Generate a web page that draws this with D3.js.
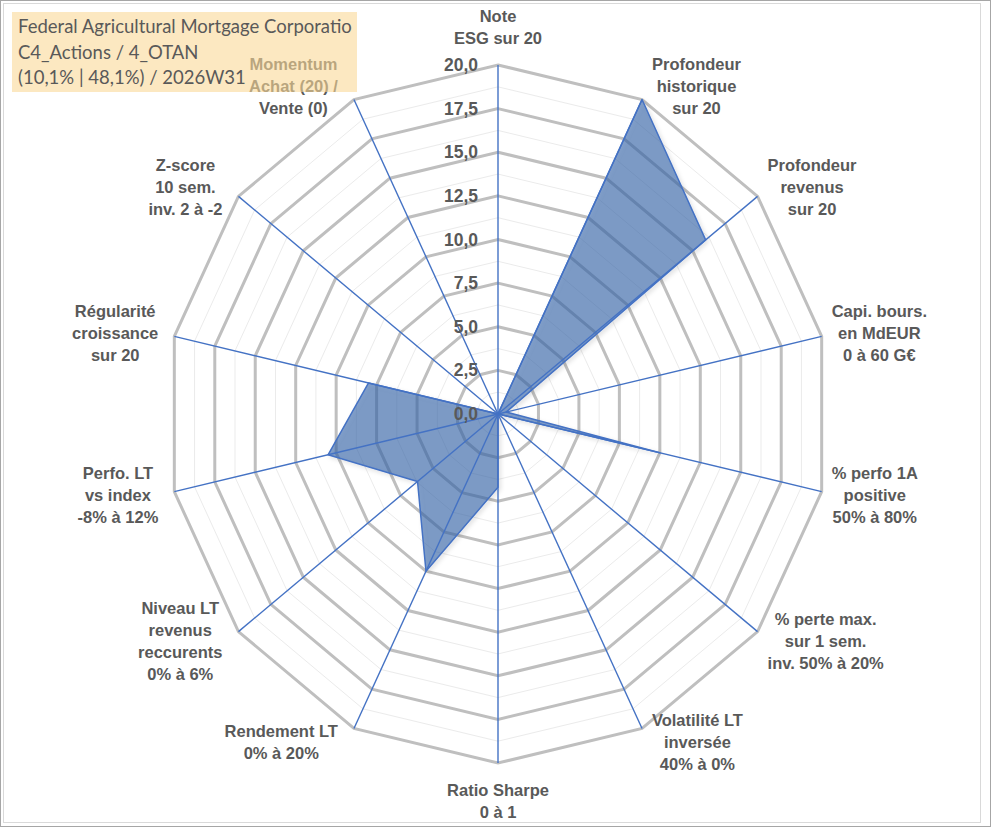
<!DOCTYPE html>
<meta charset="utf-8">
<html>
<head>
  <title>Radar</title>
  <script src="https://d3js.org/d3.v7.min.js"></script>
  <style>
    body { margin: 0; background: #fff; }
    .lbl { font-family: "Liberation Sans", Arial, sans-serif; font-weight: bold; font-size: 16.5px; fill: #595959; }
    .tick { font-family: "Liberation Sans", Arial, sans-serif; font-weight: bold; font-size: 17.5px; fill: #595959; }
    .title { font-family: Lato, "Open Sans", sans-serif; font-size: 18.5px; fill: #595959; }
  </style>
</head>
<body>
<div id="chart"></div>
<script>

// axis names, clockwise from the top
var axisLabels = [
  ["Note", "ESG sur 20"],
  ["Profondeur", "historique", "sur 20"],
  ["Profondeur", "revenus", "sur 20"],
  ["Capi. bours.", "en MdEUR", "0 à 60 G€"],
  ["% perfo 1A", "positive", "50% à 80%"],
  ["% perte max.", "sur 1 sem.", "inv. 50% à 20%"],
  ["Volatilité LT", "inversée", "40% à 0%"],
  ["Ratio Sharpe", "0 à 1"],
  ["Rendement LT", "0% à 20%"],
  ["Niveau LT", "revenus", "reccurents", "0% à 6%"],
  ["Perfo. LT", "vs index", "-8% à 12%"],
  ["Régularité", "croissance", "sur 20"],
  ["Z-score", "10 sem.", "inv. 2 à -2"],
  ["Momentum", "Achat (20) /", "Vente (0)"]
];

// scores (0..20)
var scores = [0, 20, 16, 0.5, 10, 0, 0, 4.2, 10, 6.2, 10.5, 8, 0, 0];

var majorTicks = [0, 2.5, 5, 7.5, 10, 12.5, 15, 17.5, 20];
var minorTicks = [1.25, 3.75, 6.25, 8.75, 11.25, 13.75, 16.25, 18.75];

var titleLines = [
  "Federal Agricultural Mortgage Corporatio",
  "C4_Actions / 4_OTAN",
  "(10,1% | 48,1%) / 2026W31"
];

var width = 991, height = 830;
var cx = 498, cy = 414;

var svg = d3.select("#chart")
  .append("svg")
    .attr("width", width)
    .attr("height", height);

var defs = svg.append("defs");
var shadow = defs.append("filter").attr("id", "shadow")
  .attr("x", "-10%").attr("y", "-10%").attr("width", "130%").attr("height", "130%");
shadow.append("feDropShadow")
  .attr("dx", 2).attr("dy", 2).attr("stdDeviation", 2)
  .attr("flood-color", "#000").attr("flood-opacity", 0.15);

// frame
svg.append("rect")
  .attr("x", 0.5).attr("y", 0.5).attr("width", width - 1).attr("height", height - 4)
  .attr("fill", "#fff").attr("stroke", "#a6a6a6");
svg.append("rect")
  .attr("x", 3.5).attr("y", 3.5).attr("width", 977).attr("height", 819)
  .attr("fill", "none").attr("stroke", "#d9d9d9");

// radial scales (the picture is slightly squeezed horizontally)
var rX = d3.scaleLinear().domain([0, 20]).range([0, 332]);
var rY = d3.scaleLinear().domain([0, 20]).range([0, 349]);
var ang = d3.scaleLinear().domain([0, axisLabels.length]).range([0, 2 * Math.PI]);

function pt(i, v) {
  var a = ang(i);
  return [cx + rX(v) * Math.sin(a), cy - rY(v) * Math.cos(a)];
}

var idx = d3.range(axisLabels.length);
var ring = d3.line().curve(d3.curveLinearClosed);

// minor grid
svg.append("g").selectAll("path")
  .data(minorTicks)
  .enter().append("path")
    .attr("d", function(v) { return ring(idx.map(function(i) { return pt(i, v); })); })
    .attr("fill", "none")
    .attr("stroke", "#ebebeb")
    .attr("stroke-width", 1);

// major grid
svg.append("g").selectAll("path")
  .data(majorTicks.filter(function(v) { return v > 0; }))
  .enter().append("path")
    .attr("d", function(v) { return ring(idx.map(function(i) { return pt(i, v); })); })
    .attr("fill", "none")
    .attr("stroke", "#bfbfbf")
    .attr("stroke-width", 3)
    .attr("stroke-linejoin", "miter");

// series
svg.append("path")
  .attr("d", ring(scores.map(function(v, i) { return pt(i, v); })))
  .attr("fill", "rgb(50,98,168)")
  .attr("fill-opacity", 0.6)
  .attr("stroke", "#4472c4")
  .attr("stroke-width", 1.5)
  .attr("stroke-linejoin", "round")
  .attr("filter", "url(#shadow)");

// spokes
svg.append("g").selectAll("line")
  .data(idx)
  .enter().append("line")
    .attr("x1", cx).attr("y1", cy)
    .attr("x2", function(i) { return pt(i, 20)[0]; })
    .attr("y2", function(i) { return pt(i, 20)[1]; })
    .attr("stroke", "#4472c4")
    .attr("stroke-width", 1.4);

// tick labels along the top axis
var fmt = d3.format(".1f");
svg.append("g").selectAll("text")
  .data(majorTicks)
  .enter().append("text")
    .attr("class", "tick")
    .attr("x", cx - 20)
    .attr("y", function(v) { return cy - rY(v); })
    .attr("text-anchor", "end")
    .attr("dominant-baseline", "central")
    .text(function(v) { return fmt(v).replace(".", ","); });

// axis labels
var lineH = 22;
idx.forEach(function(i) {
  var lines = axisLabels[i];
  var a = ang(i), s = Math.sin(a), c = Math.cos(a);
  var p = pt(i, 20);
  var t = svg.append("text").attr("class", "lbl").attr("text-anchor", "middle");
  var spans = t.selectAll("tspan").data(lines).enter().append("tspan").text(function(d) { return d; });
  var w = d3.max(spans.nodes(), function(n) { return n.getComputedTextLength(); });
  var h = lines.length * lineH;
  var lx, ly;
  if (Math.abs(s) < 0.01) {
    lx = p[0];
    ly = p[1] - c * (h / 2 + 16);
  } else {
    lx = p[0] + Math.sign(s) * (w / 2 + (s < 0 ? 16 : 10));
    ly = p[1] - 15.5 * c;
  }
  spans
    .attr("x", lx)
    .attr("y", function(d, k) { return ly - h / 2 + lineH * k + lineH / 2; })
    .attr("dominant-baseline", "central");
});

// title box (semi-transparent, sits over the Momentum label)
svg.append("rect")
  .attr("x", 12).attr("y", 12).attr("width", 345).attr("height", 80)
  .attr("fill", "#fad998")
  .attr("fill-opacity", 0.6);

svg.append("g").selectAll("text")
  .data(titleLines)
  .enter().append("text")
    .attr("class", "title")
    .attr("x", 18)
    .attr("y", function(d, k) { return 33 + k * 25.5; })
    .text(function(d) { return d; });

</script>
</body>
</html>
